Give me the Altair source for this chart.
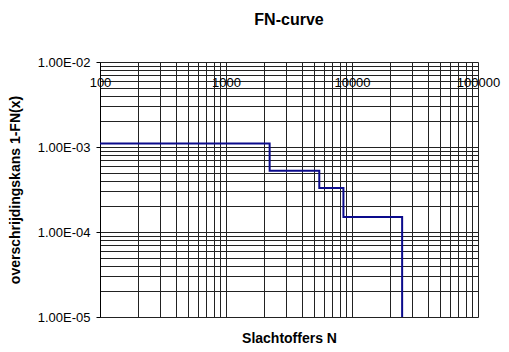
import altair as alt
import pandas as pd

# Step points of the FN-curve (N, exceedance probability)
n_values = [100, 2220, 5500, 8550, 25000]
p_values = [1.1e-3, 5.25e-4, 3.3e-4, 1.5e-4, 1e-5]

x_grid = [100, 200, 300, 400, 500, 600, 700, 800, 900,
          1000, 2000, 3000, 4000, 5000, 6000, 7000, 8000, 9000,
          10000, 20000, 30000, 40000, 50000, 60000, 70000, 80000, 90000, 100000]
x_labels = [100, 1000, 10000, 100000]
y_grid = [1e-5, 2e-5, 3e-5, 4e-5, 5e-5, 6e-5, 7e-5, 8e-5, 9e-5,
          1e-4, 2e-4, 3e-4, 4e-4, 5e-4, 6e-4, 7e-4, 8e-4, 9e-4,
          1e-3, 2e-3, 3e-3, 4e-3, 5e-3, 6e-3, 7e-3, 8e-3, 9e-3, 1e-2]

df = pd.DataFrame({"N": n_values, "P": p_values})

FONT = "Liberation Sans"

x_label_test = " || ".join(f"datum.value == {v}" for v in x_labels)
decade_test = "abs(log(datum.value)/LN10 - round(log(datum.value)/LN10)) < 1e-6"

chart = alt.Chart(df).mark_line(
    interpolate="step-after", color="#0a0a8c", strokeWidth=2, clip=True
).encode(
    x=alt.X("N:Q",
            scale=alt.Scale(type="log", domain=[100, 100000], nice=False),
            axis=alt.Axis(
                orient="top", values=x_grid, format="d",
                labelExpr=f"({x_label_test}) ? datum.label : ''",
                labelOverlap=False, labelFlush=False, labelBound=False,
                labelPadding=-24, labelBaseline="alphabetic",
                labelFont=FONT, labelFontSize=13, labelColor="black",
                ticks=False, domain=False,
                grid=True, gridColor="#222222", gridWidth=1, gridOpacity=1,
                title="Slachtoffers N", titleFont=FONT, titleFontSize=14,
                titleFontWeight="bold", titleColor="black",
                titleY=280, titleBaseline="alphabetic",
            )),
    y=alt.Y("P:Q",
            scale=alt.Scale(type="log", domain=[1e-5, 1e-2], nice=False),
            axis=alt.Axis(
                values=y_grid,
                labelExpr=f"({decade_test}) ? '1.00E-0' + toString(round(-log(datum.value)/LN10)) : ''",
                labelOverlap=False, labelBound=False, labelFlush=False,
                labelFont=FONT, labelFontSize=13, labelColor="black", labelPadding=6,
                tickSize=4, tickColor="black",
                tickOpacity=alt.condition(decade_test, alt.value(1), alt.value(0)),
                domain=True, domainColor="black",
                grid=True, gridColor="#222222", gridWidth=1, gridOpacity=1,
                title="overschrijdingskans 1-FN(x)", titleFont=FONT, titleFontSize=14,
                titleFontWeight="bold", titleColor="black", titlePadding=15,
            )),
).properties(
    width=378, height=255,
    autosize=alt.AutoSizeParams(type="none"),
    padding={"left": 92, "top": 54, "right": 23, "bottom": 27},
    title=alt.TitleParams("FN-curve", font=FONT, fontSize=16, fontWeight="bold",
                          color="black", offset=28, frame="group"),
).configure_view(
    stroke="black", strokeWidth=1
).configure(background="white")

chart.save("out.html", embed_options={"renderer": "svg", "actions": False})
